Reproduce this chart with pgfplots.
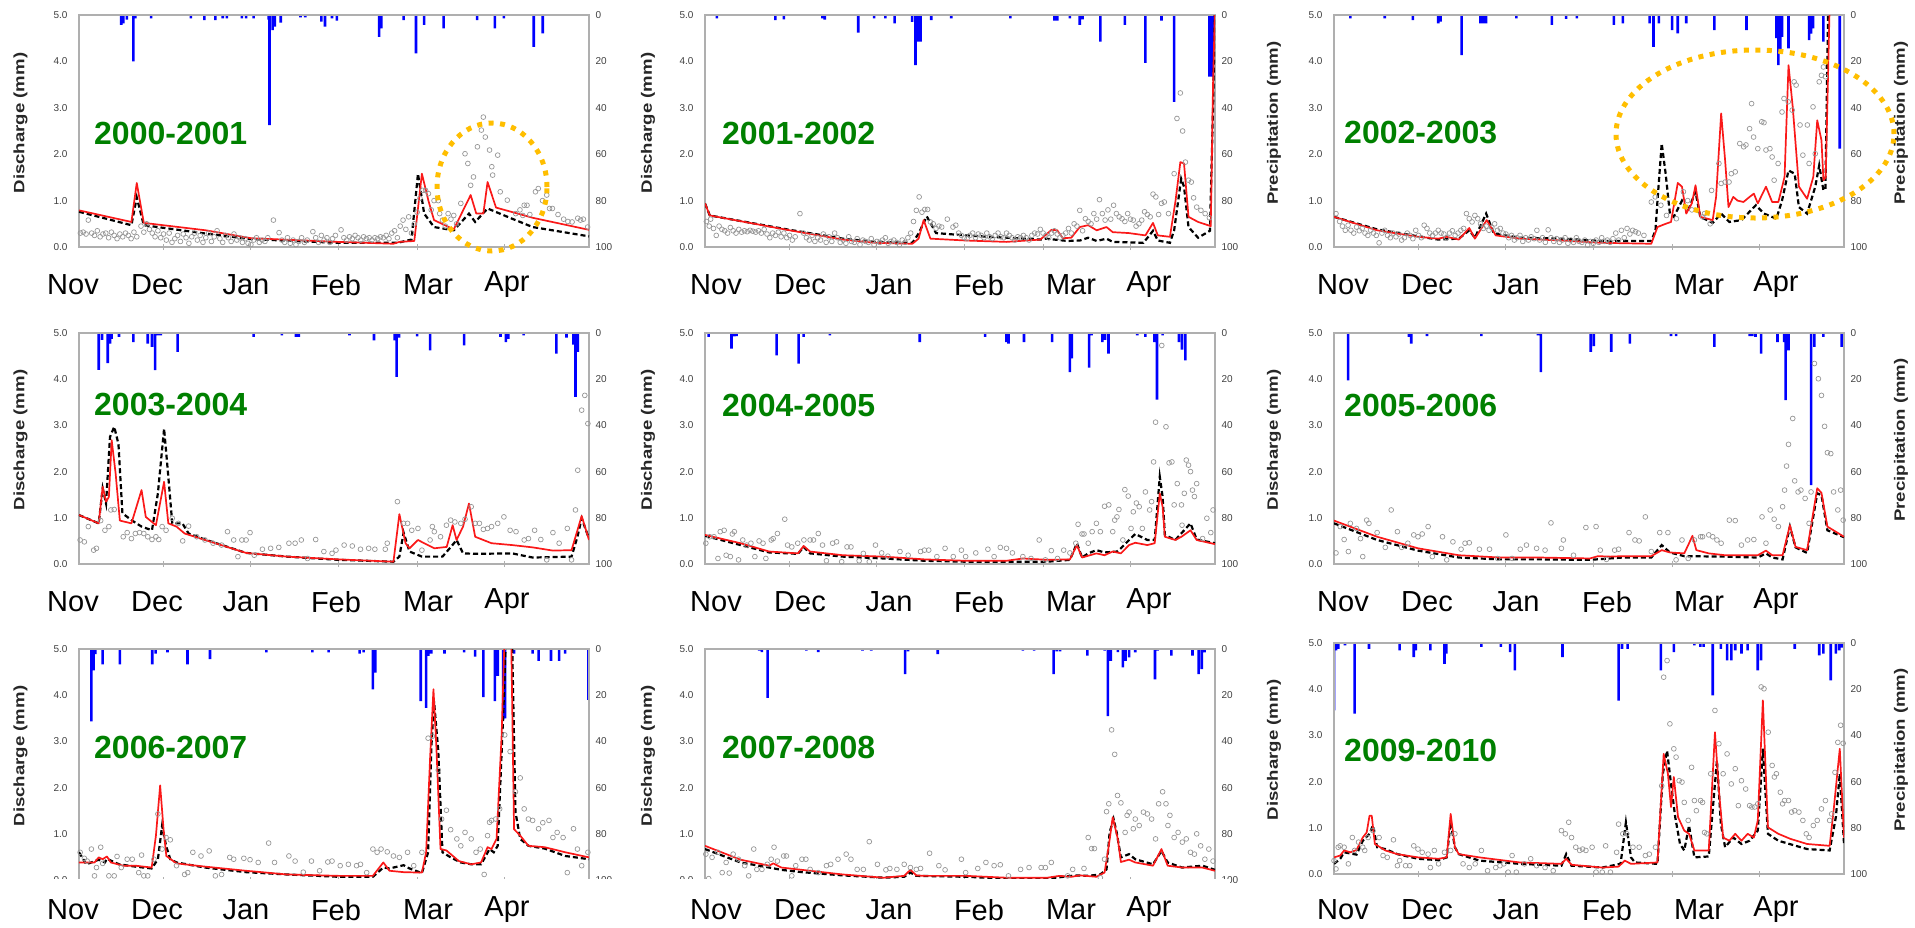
\documentclass[border=0pt]{standalone}
\usepackage{pgfplots}
\pgfplotsset{compat=1.18}
\usepackage{fontspec}
\setmainfont{Liberation Sans}

\definecolor{obsgray}{RGB}{150,150,150}
\definecolor{framegray}{RGB}{175,175,175}
\definecolor{precip}{RGB}{0,0,255}
\definecolor{simred}{RGB}{250,25,25}
\definecolor{yrgreen}{RGB}{0,128,0}
\definecolor{ringorange}{RGB}{255,190,0}

\pgfplotsset{
  base/.style={scale only axis, width=510pt, height=#1, xmin=0, xmax=181,
    anchor=south west, axis line style={draw=framegray, line width=1.3pt},
    tick label style={font=\fontsize{10}{10}\selectfont, text=black!75},
    /pgf/number format/assume math mode=true},
  qaxis/.style={base=#1, ymin=0, ymax=5, ytick={0,1,2,3,4,5},
    yticklabels={0.0,1.0,2.0,3.0,4.0,5.0}, ytick pos=left,
    xtick={30,61,92,120,151}, xticklabels={}, xtick pos=bottom,
    x tick style={draw=framegray, line width=1pt}, y tick style={draw=none},
    major tick length=6pt, tick align=center,
    yticklabel style={xshift=-5pt}},
  paxis/.style={base=#1, ymin=0, ymax=100, y dir=reverse,
    axis y line*=right, axis x line=none, ytick={0,20,40,60,80,100},
    y tick style={draw=none}, ybar, bar width=2.6pt,
    yticklabel style={xshift=3pt}},
}

% #1 left, #2 bottom (px from top), #3 height, #4 rain, #5 simulated (red), #6 simulated (dashed), #7 observed
\newcommand{\panel}[7]{%
  \begin{axis}[paxis=#3, at={(#1pt,-#2pt)}]
    \addplot[fill=precip, draw=none] coordinates {#4};
  \end{axis}
  \begin{axis}[qaxis=#3, at={(#1pt,-#2pt)}]
    \addplot[only marks, mark=o, mark size=2.4pt,
      mark options={draw=obsgray, line width=0.7pt}] coordinates {#7};
    \addplot[black, line width=2.2pt, dash pattern=on 5pt off 3pt] coordinates {#6};
    \addplot[simred, line width=1.7pt, line join=round] coordinates {#5};
  \end{axis}}

\newcommand{\monthfont}{\fontsize{29}{30}\selectfont}
\newcommand{\yearfont}{\fontsize{32}{34}\selectfont\bfseries}
\newcommand{\ylab}[1]{\scalebox{1.24}[1]{\fontsize{15}{15}\selectfont\bfseries #1}}

\begin{document}
\begin{tikzpicture}
\useasboundingbox (0,0) rectangle (1915pt,-927pt);

% ---------- 2000-2001
\panel{79}{247}{232pt}
{(15,4.3)(15.7,3.6)(17,2)(19.3,20)(20,1.4)(25.6,1.4)(39.7,1.4)(44.5,2.2)(48.4,2.2)(51,1.4)(52.5,1.4)(57.8,1.4)(59.3,1.4)(62,1.4)(67.3,2)(67.6,47.5)(68.7,6.5)(69.5,5)(71.6,3.3)(78.6,1)(80.3,1)(86,2.9)(87.3,5)(89.8,1.4)(91.5,2.4)(106.5,9.4)(107.3,5.8)(115.2,2.2)(119.6,16.5)(122.5,4.3)(129.4,5.8)(141.3,2.2)(147.6,5.8)(150.8,1.4)(161.4,13.7)(164.6,7.9)}
{(0,0.79)(18.6,0.54)(20.5,1.38)(23,0.52)(45,0.36)(61,0.19)(92,0.11)(111.6,0.07)(113.7,0.11)(119,0.13)(121.7,1.58)(124,1.0)(126,0.58)(133,0.38)(139,1.12)(141,0.72)(143.5,0.72)(145,1.40)(148,0.85)(161,0.63)(181,0.37)}
{(0,0.76)(18.6,0.47)(20.5,1.07)(23,0.47)(45,0.29)(61,0.17)(92,0.09)(113,0.09)(118,0.16)(120.3,1.58)(122.5,0.72)(126,0.43)(133,0.36)(138.4,0.72)(140.6,0.54)(145,0.83)(153.7,0.61)(161,0.43)(181,0.23)}
{(0.5,0.3)(1.5,0.32)(2.5,0.28)(3.3,0.58)(4.5,0.3)(5.5,0.25)(6.5,0.35)(7.5,0.22)(8.5,0.28)(9.5,0.3)(10.5,0.2)(11.5,0.32)(12.5,0.25)(13.5,0.18)(14.5,0.28)(15.5,0.22)(16.5,0.3)(17.5,0.25)(18.5,0.18)(19.5,0.32)(20.5,0.22)(22,0.45)(23,0.32)(24,0.5)(25,0.38)(26,0.3)(27,0.22)(28,0.35)(29,0.2)(30,0.28)(31,0.15)(32,0.3)(33,0.1)(34,0.18)(35,0.25)(36,0.12)(37,0.28)(38,0.2)(39,0.08)(40,0.22)(41,0.3)(42,0.15)(43,0.25)(44,0.1)(45,0.2)(46,0.3)(47,0.12)(48,0.22)(49,0.35)(50,0.18)(51,0.1)(52,0.25)(53,0.2)(54,0.12)(55,0.28)(56,0.15)(57,0.2)(58,0.1)(59,0.18)(60,0.08)(61,0.05)(62,0.15)(63,0.2)(64,0.1)(65,0.15)(66,0.12)(67,0.2)(69,0.58)(71,0.31)(72,0.15)(73,0.1)(74,0.2)(75,0.08)(76,0.15)(77,0.05)(78,0.12)(79,0.2)(80,0.1)(81,0.15)(83,0.33)(84,0.2)(85,0.1)(86,0.25)(87,0.15)(88,0.2)(89,0.1)(90,0.18)(91,0.25)(93,0.37)(94,0.2)(95,0.15)(96,0.22)(97,0.18)(98,0.25)(99,0.2)(100,0.15)(101,0.22)(102,0.18)(103,0.2)(104,0.15)(105,0.2)(106,0.18)(107,0.22)(108,0.2)(109,0.25)(110,0.18)(111,0.3)(112,0.35)(113,0.2)(114,0.45)(115,0.58)(116,0.38)(117,0.65)(118,0.3)(119,0.5)(120,0.75)(121,1.05)(122,1.22)(123,1.22)(124,1.15)(125,0.8)(126,1.0)(127.5,1.0)(128,0.72)(129,0.58)(130,0.45)(131,0.72)(132,0.6)(133,0.68)(134,0.5)(135.5,0.94)(137,2.01)(138,1.8)(139,1.33)(140,1.51)(141.4,2.16)(142.8,2.52)(143.5,2.8)(144.2,2.37)(145.7,2.09)(146.5,1.73)(146.8,1.55)(148.6,1.98)(149.5,1.19)(152,1.01)(155,0.72)(156.5,0.8)(157.5,0.68)(158,0.9)(159,0.9)(160,0.7)(162,1.19)(163,1.26)(164.5,1.0)(166,1.12)(167,0.83)(168,0.83)(170,0.7)(172,0.6)(173.5,0.55)(175,0.54)(177,0.62)(178,0.58)(179,0.6)(180.5,0.43)}

% ---------- 2001-2002
\panel{705}{247}{232pt}
{(4.2,1.4)(25,2.2)(28,1.9)(41.7,1.4)(42.5,2)(54.4,7.6)(60,1.4)(64,1.4)(67.3,3.6)(73.5,3)(74.7,21.6)(75.6,11.5)(76.5,11.5)(80.3,2.2)(87.4,1.4)(108.4,1.4)(124,2.4)(125,2.4)(129.5,1.4)(133,4.3)(134,1.9)(140.3,11.5)(149,4.3)(156.3,20.6)(162,2.4)(166.5,37.4)(179,26.6)(179.8,26.6)(180.5,20)}
{(0,0.94)(1.7,0.68)(30,0.36)(49,0.16)(60.5,0.09)(73.6,0.07)(75.8,0.18)(77.6,0.58)(80,0.18)(92.5,0.14)(107,0.11)(119,0.16)(123,0.37)(125,0.36)(127,0.19)(130,0.2)(133,0.43)(136,0.47)(139,0.36)(142.5,0.43)(144.7,0.32)(150.5,0.3)(156.3,0.25)(159,0.52)(160.7,0.25)(165,0.22)(167,1.0)(168.7,1.83)(170,1.8)(171.6,0.65)(175,0.54)(179.5,0.45)(180.3,3.5)(181,5.2)}
{(0,0.94)(1.7,0.68)(30,0.37)(49,0.18)(60.5,0.11)(73.6,0.09)(75.8,0.29)(78.7,0.66)(82,0.3)(92.5,0.25)(107,0.2)(119,0.16)(121,0.18)(128.7,0.13)(133,0.14)(136,0.2)(139,0.13)(142.5,0.18)(144.7,0.11)(155.6,0.09)(159,0.35)(160.7,0.14)(165,0.09)(166.5,0.36)(169,1.47)(170,1.3)(171.6,0.43)(175,0.2)(179.2,0.35)(180.3,3.0)(181,5.2)}
{(0.5,0.55)(1.5,0.45)(2,0.6)(3,0.4)(4,0.25)(5,0.45)(6,0.38)(7,0.35)(8,0.3)(9,0.42)(10,0.35)(11,0.3)(12,0.38)(13,0.32)(14,0.35)(15,0.33)(16,0.36)(17,0.34)(18,0.32)(19,0.35)(20,0.3)(21,0.38)(22,0.28)(23,0.2)(24,0.3)(25,0.25)(26,0.32)(27,0.22)(28,0.3)(29,0.2)(30,0.25)(31,0.15)(32,0.22)(33.7,0.72)(35,0.3)(36,0.2)(37,0.15)(38,0.25)(39,0.12)(40,0.2)(41,0.15)(42,0.28)(43,0.1)(44,0.22)(45,0.12)(46,0.3)(47,0.2)(48,0.1)(49,0.15)(50,0.08)(51,0.22)(52,0.12)(53,0.1)(54,0.18)(55,0.05)(56,0.15)(57,0.12)(58,0.1)(59,0.18)(60,0.05)(61,0.12)(62,0.1)(63,0.15)(64,0.2)(65,0.08)(66,0.12)(67,0.15)(68,0.1)(69,0.05)(70,0.15)(71,0.1)(72,0.2)(73,0.3)(74,0.55)(75,0.79)(76,1.08)(77,0.75)(78,0.81)(79,0.81)(80,0.54)(81,0.5)(82,0.4)(83,0.45)(84,0.43)(86,0.6)(88,0.43)(89,0.47)(90,0.3)(91,0.25)(92,0.2)(93,0.18)(94,0.25)(95,0.3)(96,0.2)(97,0.28)(98,0.25)(99,0.2)(100,0.3)(101,0.22)(102,0.18)(103,0.25)(104,0.3)(105,0.22)(106,0.2)(107,0.3)(108,0.25)(109,0.2)(110,0.15)(111,0.22)(112,0.2)(113,0.25)(114,0.2)(115,0.15)(116,0.25)(117,0.3)(118,0.28)(119,0.38)(120,0.3)(121,0.25)(122,0.2)(123,0.3)(124,0.35)(125,0.28)(126,0.2)(127,0.25)(128,0.3)(129,0.4)(130,0.3)(131,0.5)(132,0.45)(133,0.79)(134,0.35)(135,0.61)(136,0.55)(137,0.5)(138,0.72)(139,0.6)(140,1.02)(141,0.72)(142,0.58)(143,0.8)(144,0.6)(145,0.9)(146,0.72)(147,0.65)(148,0.61)(149,0.55)(150,0.72)(151,0.6)(152,0.58)(153,0.45)(154,0.5)(155,0.58)(156,0.76)(157,0.7)(158,0.65)(159,1.14)(160,1.08)(161,0.7)(162,0.94)(163,0.97)(164.5,0.72)(166.5,1.58)(167.5,2.77)(168.7,3.32)(169.5,2.5)(170.5,1.83)(171.6,1.44)(172.6,1.4)(173.4,1.06)(174.5,0.86)(176,0.79)(177.5,0.72)(179,0.63)}

% ---------- 2002-2003
\panel{1334}{247}{232pt}
{(5.8,1.4)(18,1.4)(28,2.2)(37,3.6)(37.8,2.9)(45.3,17.3)(52,3.6)(53,3.6)(54,3.6)(64.7,1.4)(77.3,4.3)(82.4,1.7)(86.2,1.4)(99.3,4.3)(102.5,3.6)(112,3.6)(113.4,13.7)(115.3,3.6)(120,6.5)(122,7.9)(125,3.6)(135,6.5)(146.4,6.5)(157,10)(157.7,21.6)(158.4,16.5)(159,9.4)(161.3,14.4)(168.6,10.8)(169.3,8)(170,5.8)(173.7,11.5)(179.5,57.6)}
{(0,0.65)(15.3,0.36)(29.8,0.22)(37,0.18)(40,0.22)(44.3,0.16)(48,0.41)(50,0.18)(54.2,0.58)(57.4,0.25)(66,0.18)(80.7,0.14)(95,0.09)(112.6,0.07)(114.8,0.43)(117.7,0.5)(119.6,0.54)(122,1.38)(123.5,1.3)(125,0.72)(127,0.94)(128.3,1.33)(130,0.65)(134.4,0.58)(135.6,1.08)(137.4,2.88)(138.8,1.87)(140,0.86)(141.7,1.08)(143.2,1.0)(145.3,0.97)(147.5,1.08)(149,1.15)(150.4,0.94)(153.3,1.3)(155.5,0.97)(157.7,0.97)(159.9,1.51)(161.3,3.92)(162.8,3.02)(165,1.3)(167.9,1.04)(170.1,1.51)(171.5,2.73)(173,2.3)(173.7,1.44)(174.5,1.5)(175.9,5.2)}
{(0,0.65)(15.3,0.38)(29.8,0.23)(37,0.16)(44.3,0.18)(48,0.36)(50,0.2)(54,0.72)(56.7,0.29)(66,0.2)(80.7,0.18)(95,0.13)(112.6,0.13)(114.1,0.36)(114.8,1.0)(116.3,2.23)(117.7,1.58)(119.2,0.72)(120.6,0.65)(123.5,1.0)(125.7,0.79)(128.3,1.19)(130,0.65)(134.4,0.52)(137.4,0.72)(140.3,0.54)(144.6,0.58)(149.7,0.9)(152.6,0.72)(157,0.61)(159,1.0)(161.3,1.65)(163.5,1.58)(165,0.86)(167.9,0.72)(170.8,1.3)(172.2,1.76)(173.7,1.22)(174.4,1.25)(175.4,5.2)}
{(0.7,0.72)(2,0.55)(3,0.45)(4,0.36)(5,0.47)(6,0.36)(7,0.3)(8,0.43)(9,0.35)(10,0.4)(11,0.3)(12,0.25)(13,0.36)(14,0.3)(15,0.25)(16,0.09)(17,0.3)(18,0.36)(19,0.25)(20,0.2)(21,0.3)(22,0.22)(23,0.28)(24,0.15)(25,0.2)(26,0.3)(27,0.25)(28,0.18)(29,0.36)(30,0.25)(31,0.2)(32,0.47)(33,0.4)(34,0.3)(35,0.25)(36,0.3)(37,0.36)(38,0.3)(39,0.28)(40,0.2)(41,0.3)(42,0.35)(43,0.25)(44,0.3)(45,0.36)(46,0.4)(47,0.72)(48,0.61)(49,0.54)(50,0.68)(51,0.61)(52,0.5)(53,0.4)(54,0.45)(55,0.36)(56,0.42)(57,0.5)(58,0.36)(59,0.4)(60,0.3)(61,0.28)(62,0.2)(63,0.25)(64,0.15)(65,0.2)(66,0.25)(67,0.12)(68,0.2)(69,0.15)(70,0.22)(71,0.18)(72,0.36)(73,0.15)(74,0.2)(75,0.1)(76,0.37)(77,0.2)(78,0.12)(79,0.18)(80,0.1)(81,0.15)(82,0.2)(83,0.08)(84,0.15)(85,0.1)(86,0.2)(87,0.12)(88,0.1)(89,0.15)(90,0.04)(91,0.12)(92,0.08)(93,0.15)(94,0.1)(95,0.2)(96,0.12)(97,0.15)(98,0.1)(99,0.18)(100,0.3)(101,0.15)(102,0.36)(103,0.2)(104,0.4)(105,0.28)(106,0.36)(107,0.33)(108,0.3)(110,0.25)(112.6,0.97)(114,1.08)(116,0.9)(118,0.68)(121.5,0.61)(124,1.19)(125.5,1.0)(127,0.8)(130.8,0.65)(131.5,0.72)(133.5,0.5)(134,1.22)(136.6,1.8)(137.4,1.37)(138.8,1.4)(140.2,1.4)(141,1.58)(142.4,1.62)(144,2.23)(145.4,2.16)(146.2,2.2)(147.5,2.55)(148.2,3.09)(148.9,2.37)(150.4,2.12)(151.8,2.7)(152.6,2.68)(153.3,2.09)(154.7,2.12)(155.5,1.94)(156.2,1.44)(157.6,1.8)(159,2.91)(159.7,3.2)(161.2,3.13)(162.6,2.95)(163.3,3.56)(164,3.49)(165.4,2.63)(166.4,1.98)(168,2.63)(168.6,1.8)(170,3.02)(170.8,2.01)(172.2,3.56)(173,3.7)(173.7,3.88)(174.4,3.67)}

% ---------- 2003-2004
\panel{79}{564}{231pt}
{(7,16)(8.2,3)(10.2,13)(11,4.6)(11.6,2.5)(14.2,1.7)(19.3,3.9)(24.4,4.6)(25.9,6)(27,16.1)(28,1)(29,1)(35,8.2)(62,1.7)(72,1)(77,1.7)(78,1.7)(96,1)(104.7,3.2)(112,3.2)(112.7,19)(113.6,2)(120,1.5)(124.6,7.5)(136.7,5.3)(149.6,1.7)(151.5,3.9)(152.4,2.5)(157.8,1)(169.4,8.9)(173,2)(175.5,5)(176.2,27.7)(177,8.2)}
{(0,1.06)(7,0.88)(8.4,1.67)(9.6,1.35)(10.6,1.45)(11.6,2.68)(13,1.96)(14.5,0.94)(18.6,0.88)(22.2,1.6)(23.7,1.02)(27.3,0.84)(30.2,1.78)(31.7,0.88)(34.6,0.81)(37.5,0.66)(44.7,0.52)(59.3,0.24)(73.8,0.16)(92.1,0.1)(111.6,0.05)(113.7,1.08)(115.9,0.45)(117.3,0.34)(120.3,0.52)(122.5,0.45)(126.1,0.34)(130.5,0.37)(132.6,0.84)(134,0.52)(136.3,0.81)(138.4,1.31)(140.6,0.59)(146.4,0.45)(153.7,0.41)(161,0.36)(168.2,0.29)(174.8,0.3)(176.9,0.73)(178.4,1.04)(181,0.52)}
{(0,1.06)(7,0.88)(8.4,1.64)(9.6,1.31)(11,2.75)(12.5,2.97)(14,2.6)(15.4,1.1)(18.6,0.95)(22.2,0.81)(25.9,0.73)(28,1.53)(30.2,2.93)(31.7,1.89)(33.1,0.88)(36.7,0.88)(38.9,0.66)(44.7,0.53)(59.3,0.24)(73.8,0.16)(92.1,0.09)(111.6,0.05)(113.7,0.16)(115.2,0.68)(117.3,0.27)(121.7,0.16)(129,0.16)(132,0.37)(134,0.52)(136.3,0.23)(140.6,0.22)(153.7,0.23)(161,0.14)(174.8,0.16)(176.9,0.59)(178.4,0.99)(181,0.55)}
{(0.4,0.52)(1.9,0.48)(3.3,0.81)(5.2,0.3)(6.2,0.34)(7.7,0.94)(9.2,0.73)(10.6,0.81)(11.3,1.17)(12.5,1.18)(15.7,0.59)(17.1,0.68)(18.6,0.55)(20,0.66)(21.5,0.68)(23,0.66)(24.4,0.59)(25.9,0.53)(27.3,0.59)(28.3,0.53)(29.5,0.81)(30.9,0.73)(33.1,0.99)(35.3,0.88)(36.8,0.5)(38.9,0.82)(41.8,0.59)(44.7,0.52)(47.6,0.45)(50.6,0.41)(52.7,0.7)(54.9,0.52)(56.4,0.16)(57.8,0.52)(59.3,0.52)(60.7,0.68)(62.2,0.19)(65.1,0.32)(68,0.34)(70.9,0.36)(74.5,0.45)(76.7,0.45)(78.9,0.52)(81.1,0.12)(84,0.53)(86.9,0.27)(89.8,0.23)(91.2,0.3)(94.1,0.41)(97,0.39)(99.9,0.32)(102.8,0.34)(105,0.32)(108.7,0.32)(109.4,0.45)(113,1.35)(115.2,0.88)(116.6,0.88)(118.1,0.73)(120.3,0.77)(121.7,0.3)(124.6,0.52)(125.4,0.81)(126.1,0.7)(128.3,0.59)(130.4,0.84)(131.9,0.95)(133.4,0.91)(135.5,0.88)(137,0.97)(139.2,1.24)(140.6,0.88)(142.1,0.88)(143.5,0.75)(145,0.77)(146.4,0.81)(148.6,0.88)(150.8,1.02)(153,0.73)(155.1,0.7)(158,0.52)(159.5,0.55)(161.7,0.73)(163.9,0.53)(166,0.09)(168.2,0.68)(170.4,0.45)(173.3,0.77)(174.8,0.09)(176.2,1.17)(177,2.03)(178.4,3.33)(179.5,3.65)(180.6,3.04)}

% ---------- 2004-2005
\panel{705}{564}{231pt}
{(1.3,1.7)(9.4,6.8)(10.4,1.5)(11.2,1.3)(25.4,9.7)(33.2,13.3)(35,1.7)(44.3,1)(76.2,3.9)(99.4,1.7)(107,3.9)(107.7,4.6)(113.2,3.9)(123.2,3.9)(129.5,16.9)(130.2,11)(136.3,15)(137.2,1)(141,3.9)(142,3)(143.2,8.9)(153.4,1)(156.3,1.7)(159.5,3.9)(160.4,28.8)(162.4,1)(168.2,3.9)(169.3,7.2)(170.5,11.8)}
{(0,0.63)(12.6,0.45)(22.8,0.27)(33,0.23)(35,0.39)(37.3,0.27)(48.9,0.19)(63.4,0.16)(77.9,0.1)(92.5,0.07)(107,0.07)(112.8,0.12)(121.5,0.09)(129.5,0.1)(132,0.41)(133.8,0.14)(138.9,0.23)(141.8,0.19)(144.7,0.27)(147.6,0.23)(150.5,0.41)(152.7,0.46)(157,0.41)(159.6,0.45)(161.4,1.53)(162.4,1.24)(163.2,0.59)(166.9,0.52)(169.1,0.59)(172.3,0.73)(174.5,0.52)(181,0.43)}
{(0,0.61)(12.6,0.41)(22.8,0.25)(33,0.22)(35,0.37)(37.3,0.23)(48.9,0.16)(63.4,0.12)(77.9,0.07)(92.5,0.05)(112.8,0.05)(121.5,0.05)(129.5,0.09)(132,0.45)(133.8,0.14)(136,0.23)(138.9,0.3)(141.8,0.25)(146.2,0.27)(147.6,0.34)(150.5,0.52)(152.7,0.65)(157,0.52)(159.6,0.52)(161.4,1.89)(162.4,1.46)(163.2,0.63)(166.9,0.52)(172.3,0.88)(174.5,0.53)(181,0.45)}
{(0.3,0.45)(1.7,0.59)(3.2,0.59)(4.6,0.12)(5.4,0.7)(6.8,0.73)(7.5,0.19)(9,0.16)(9.7,0.65)(10.4,0.7)(11.9,0.09)(13.4,0.52)(14.8,0.41)(16.3,0.45)(17.7,0.16)(19.2,0.5)(20.6,0.45)(21.6,0.12)(23.5,0.52)(24.2,0.55)(25.7,0.66)(28.3,0.97)(29.3,0.41)(30.8,0.37)(32.9,0.45)(35.1,0.52)(37.3,0.52)(38.5,0.52)(40.2,0.66)(41.7,0.41)(43.1,0.07)(45.3,0.45)(46.7,0.48)(48.5,0.05)(50.4,0.37)(51.8,0.37)(54.7,0.07)(56.2,0.23)(58.3,0.05)(60.5,0.41)(62.7,0.24)(64.9,0.17)(69.2,0.27)(72.1,0.19)(76.5,0.27)(77.9,0.3)(79.4,0.3)(82.3,0.16)(85.2,0.34)(88.1,0.16)(91,0.3)(92.5,0.16)(96.1,0.24)(100.4,0.32)(102.6,0.16)(104.8,0.36)(107,0.34)(109.1,0.24)(112.8,0.16)(115.7,0.12)(118.6,0.52)(120.8,0.09)(122.9,0.29)(125.1,0.12)(127.3,0.3)(129.5,0.24)(131.6,0.45)(132.4,0.86)(133.8,0.65)(134.5,0.65)(136,0.45)(137.4,0.7)(138.9,0.88)(140.3,0.7)(141.8,1.25)(143.3,1.28)(144.7,0.7)(145.4,0.95)(146.2,1.02)(146.9,1.18)(148.3,0.52)(149,1.61)(150.2,1.47)(151.2,0.77)(152,1.13)(153.1,1.32)(154.1,1.24)(155.2,0.77)(156.3,1.56)(157.8,1.17)(158.5,1.35)(159.2,2.21)(159.9,3.07)(162.1,4.73)(163.6,2.97)(164.7,2.19)(165.7,2.21)(166.5,1.28)(167.6,1.74)(169.1,1.28)(169.3,0.84)(170.1,1.53)(170.8,2.25)(171.6,2.14)(172.3,2)(173,1.6)(173.7,1.46)(174.5,1.74)(176.6,0.55)(178.1,0.99)(179.5,0.68)(180.3,1.17)}

% ---------- 2005-2006
\panel{1334}{564}{231pt}
{(5,20.5)(26.6,1.7)(27.4,4.6)(33,1.4)(52.3,1.4)(72.4,1)(73.4,16.9)(91.1,8.2)(92.2,5.7)(98.4,8.2)(105,4.6)(119.6,1.4)(121.4,1.4)(135,6)(147.5,1.4)(148.5,1.4)(149.6,1.7)(151.6,8.9)(157.4,3.9)(159.8,3.9)(160.3,29)(161.3,7.5)(169.3,65.8)(170.5,6)(173.7,1.7)(180.2,6)}
{(0,0.94)(15.3,0.59)(29.8,0.34)(44.3,0.19)(58.9,0.14)(73.4,0.14)(90.8,0.12)(93.7,0.17)(98,0.16)(102.4,0.17)(112.6,0.17)(116.3,0.3)(119.2,0.25)(124.3,0.23)(125.7,0.41)(127.2,0.61)(128.6,0.3)(133,0.23)(138.8,0.19)(150.4,0.19)(153.3,0.29)(155.5,0.19)(159.2,0.19)(161.8,0.84)(163.8,0.37)(167.9,0.3)(171.5,1.64)(173,1.54)(175.1,0.81)(181,0.59)}
{(0,0.88)(15.3,0.52)(29.8,0.29)(44.3,0.14)(58.9,0.1)(73.4,0.1)(90.8,0.09)(102.4,0.14)(112.6,0.14)(116.3,0.41)(119.2,0.25)(124.3,0.17)(138.8,0.16)(150.4,0.14)(153.3,0.23)(155.5,0.14)(159.2,0.1)(161.8,0.81)(163.8,0.36)(167.9,0.24)(171.5,1.53)(173,1.49)(175.1,0.73)(181,0.58)}
{(0.7,0.24)(2.2,0.81)(3.6,0.53)(5.1,0.27)(5.8,0.88)(8,0.77)(9.4,0.55)(10.2,0.16)(11.6,0.95)(12.4,0.88)(15.3,0.68)(18.2,0.36)(20.3,1.17)(22.5,0.7)(24,0.36)(26.2,0.45)(28.3,0.63)(29.8,0.59)(31.3,0.65)(33.4,0.81)(34.9,0.16)(38.5,0.59)(40,0.09)(42.2,0.48)(45.1,0.32)(46.5,0.45)(48,0.46)(51.6,0.32)(55.2,0.32)(58.1,0.12)(61,0.63)(63.2,0.12)(66.1,0.32)(68.3,0.41)(71.9,0.34)(74.9,0.3)(77,0.89)(80.7,0.34)(81.4,0.52)(85,0.19)(89.4,0.79)(93,0.81)(94.5,0.3)(96.7,0.1)(99.6,0.3)(101,0.32)(104.7,0.68)(106.8,0.52)(108.3,0.5)(110.5,1.02)(112.6,0.27)(115.6,0.68)(118.5,0.68)(121.4,0.09)(123.5,0.52)(125.7,0.12)(127.9,0.52)(130.1,0.59)(130.8,0.59)(133,0.63)(134.4,0.59)(135.9,0.52)(137.4,0.45)(140.3,0.95)(142.4,0.94)(144.6,0.41)(146.8,0.52)(149,0.53)(151.9,1.02)(153.3,0.45)(154.8,1.17)(156.2,0.97)(157.7,0.81)(159.2,1.24)(159.9,1.6)(160.6,2.12)(161.3,2.59)(162.8,3.15)(163.5,1.8)(164.7,1.56)(165.7,1.6)(167.2,1.42)(168.6,0.88)(169.3,1.56)(170.5,4.34)(171.9,4.01)(173,3.65)(174.1,2.98)(175.1,2.41)(176.3,2.39)(177.3,1.56)(178.8,1.17)(179.8,1.6)(180.7,0.95)}

% ---------- 2006-2007
\panel{79}{880}{231pt}
{(4.4,31.3)(5.2,9.2)(5.8,2.2)(8.4,6.6)(14.5,6.6)(26,6.6)(27.2,2)(31.4,1.5)(38.5,6.6)(46.5,4.4)(66.5,1.5)(82.8,1.5)(88.6,1.5)(99.6,2)(101,1.5)(104.3,17.5)(105.2,10.2)(121.3,22.6)(123.2,25.5)(124,3)(125,2)(129.7,2)(136.7,1.5)(140.6,3.3)(143.5,20.8)(147.6,22.6)(148.6,11.6)(150.5,30.6)(151.2,30)(154.4,2)(161,2)(163.1,5.1)(167.5,5.1)(170.4,5.1)(172.5,2)(180.8,22)}
{(0,0.38)(5.5,0.38)(7,0.49)(8.4,0.45)(9.9,0.51)(11.3,0.38)(15.7,0.31)(20,0.31)(25.8,0.27)(27.3,0.96)(28.8,2.05)(30,1.1)(31,0.52)(34.6,0.36)(44.7,0.29)(59.3,0.2)(73.8,0.12)(92.1,0.09)(104.3,0.09)(108,0.38)(110.2,0.2)(115.2,0.17)(121.7,0.16)(123.2,0.6)(124.6,2.63)(125.8,4.13)(126.8,2.93)(128.3,0.67)(130.4,0.64)(134.8,0.41)(139.2,0.34)(142.7,0.38)(145,0.71)(146.4,0.67)(148.2,0.89)(150,3.14)(151,5.2)(153.4,5.2)(154.4,1.1)(156.6,0.96)(159.5,0.74)(165.3,0.71)(172.6,0.6)(181,0.49)}
{(0,0.6)(2.6,0.34)(7,0.44)(9.2,0.38)(9.9,0.46)(14.2,0.34)(20,0.29)(25.8,0.25)(28,0.45)(29.5,1.18)(30.9,0.74)(32.4,0.45)(34.6,0.38)(44.7,0.27)(59.3,0.17)(73.8,0.12)(92.1,0.07)(104.3,0.07)(108,0.27)(110.2,0.25)(115.2,0.32)(117.3,0.25)(121.7,0.15)(123.9,0.6)(125.1,2.93)(126,3.87)(127.5,2.8)(129,0.6)(131.9,0.49)(135.5,0.38)(139.2,0.34)(142.7,0.34)(145.7,0.67)(147.2,0.6)(148.6,0.74)(150.5,3.5)(151.5,5.2)(153.7,5.2)(154.9,1.47)(156.6,0.89)(159.5,0.74)(165.3,0.68)(172.6,0.52)(181,0.45)}
{(0.4,0.6)(1.9,0.47)(2.9,0.41)(4.4,0.67)(5.5,0.09)(6.2,0.27)(7.7,0.71)(8.4,0.36)(10.6,0.09)(12.5,0.09)(13.5,0.51)(15,0.27)(17.1,0.45)(18.9,0.45)(21.2,0.16)(22.2,0.54)(23,0.09)(24.4,0.09)(26.6,0.45)(28,1.43)(29.5,0.67)(30.9,0.92)(32.4,0.87)(34.6,0.31)(37.5,0.12)(38.6,0.16)(40.4,0.6)(43.3,0.52)(46.2,0.63)(48.4,0.09)(50.6,0.12)(53.5,0.49)(54.9,0.45)(58.5,0.47)(60.7,0.44)(63.6,0.38)(67.3,0.8)(69.4,0.38)(74.5,0.52)(76.7,0.41)(79.6,0.17)(82.5,0.41)(85.4,0.2)(88.3,0.39)(89.8,0.41)(92.7,0.31)(95.6,0.34)(98.5,0.31)(99.9,0.34)(102.1,0.16)(104.3,0.67)(105.8,0.6)(107.2,0.67)(109.4,0.61)(111.6,0.52)(113.7,0.49)(116.6,0.6)(118.8,0.31)(121.7,0.6)(123.9,3.07)(125.4,3.11)(127.5,2.38)(128.7,1.32)(130.4,1.51)(131.9,1.09)(134.1,0.89)(135.5,0.74)(137,1.03)(139.2,0.89)(140.9,0.6)(142.4,0.67)(143.8,0.12)(145,0.96)(145.7,1.25)(146.4,1.29)(147.9,1.32)(149.3,1.54)(151.1,3.14)(153,2.78)(154.9,1.91)(156.6,2.21)(158,1.54)(159.5,1.32)(161,1.29)(163.1,1.11)(164.6,1.24)(166.8,1.29)(168.2,0.92)(169.7,1.03)(171.8,0.92)(173.3,0.16)(175.5,1.11)(176.9,0.67)(178.4,0.31)(180.6,0.6)}

% ---------- 2007-2008
\panel{705}{880}{231pt}
{(19.2,0.7)(20.2,1.4)(22.2,21.1)(36,0.7)(40.2,1.4)(55.9,0.7)(59,0.7)(71,10.9)(72.1,1)(82.6,2.2)(112.8,0.7)(116.8,0.7)(123.7,10.9)(124.8,1)(126,1)(135.7,2.9)(141.8,0.7)(143,29.1)(144,5.1)(146.5,1.4)(148.3,8)(149.3,5.1)(150.5,3.6)(152.7,1.5)(159.7,13.1)(160.6,0.7)(165.5,2.9)(173,2.9)(175.2,10.9)(176.3,8.7)(177.3,1.5)}
{(0,0.74)(12.6,0.44)(22.8,0.31)(24.2,0.36)(27.1,0.27)(34.4,0.22)(48.9,0.12)(63.4,0.05)(70.7,0.09)(72.9,0.22)(75,0.1)(77.9,0.09)(92.5,0.09)(107,0.05)(121.5,0.05)(125.8,0.09)(130.1,0.07)(133,0.1)(138.9,0.07)(141.8,0.16)(143.3,0.74)(144.7,1.36)(146.5,0.89)(147.6,0.39)(150.5,0.44)(152.7,0.38)(159,0.31)(162,0.67)(164.2,0.31)(169.3,0.27)(176.5,0.27)(181,0.2)}
{(0,0.67)(12.6,0.38)(22.8,0.27)(27.1,0.22)(34.4,0.17)(48.9,0.1)(63.4,0.05)(70.7,0.07)(72.9,0.16)(75,0.09)(92.5,0.07)(107,0.03)(121.5,0.03)(130.1,0.09)(133,0.1)(135.9,0.09)(140.3,0.12)(142.5,0.23)(143.6,1.03)(145,1.32)(146.1,1.03)(147.6,0.49)(150.5,0.56)(152.7,0.45)(159,0.34)(162,0.63)(164.2,0.38)(169.3,0.27)(176.5,0.31)(181,0.22)}
{(0.3,0.56)(1.3,0.03)(2.5,0.49)(4.6,0.6)(6.1,0.16)(7.5,0.38)(8.6,0.15)(10,0.56)(11.9,0.45)(14.1,0.31)(15.5,0.09)(17.3,0.67)(18.4,0.23)(20.2,0.23)(22.1,0.34)(23.5,0.45)(24.5,0.71)(25.7,0.41)(27.9,0.52)(28.9,0.52)(30.8,0.09)(32.2,0.31)(34.4,0.45)(35.8,0.45)(37.3,0.23)(40.2,0.16)(43.1,0.31)(44.6,0.34)(47.2,0.45)(50.1,0.56)(51.8,0.45)(54,0.23)(56.2,0.23)(58.3,0.83)(61.2,0.34)(64.2,0.22)(65.6,0.25)(68.1,0.23)(70.7,0.34)(72.9,0.27)(75,0.23)(76.5,0.25)(79.7,0.58)(83,0.31)(85.2,0.22)(91,0.45)(92.5,0.16)(96.8,0.25)(99.7,0.38)(102.6,0.31)(104.8,0.33)(107.7,0.09)(112,0.23)(115,0.27)(119.3,0.27)(120.8,0.27)(122.9,0.38)(128.7,0.09)(130.5,0.23)(134.5,0.25)(136,0.92)(137.2,0.68)(138.2,0.68)(140.3,0.05)(141.8,0.45)(142.5,1.48)(143.3,1.65)(144.3,3.25)(145.4,2.72)(146.4,1.83)(147.6,1.67)(149.1,1.03)(149.8,1.4)(150.5,1.47)(152,1.11)(152.7,1.32)(154.1,1.18)(155.6,1.47)(157,1.43)(158.5,1.32)(159.9,0.89)(161,1.65)(162.4,1.91)(163.6,1.65)(164.3,1.18)(165,1.4)(166.5,0.92)(167.9,1.03)(169.4,0.82)(170.8,0.89)(172.3,0.6)(173.7,0.56)(174.5,1)(175.9,0.74)(177.4,0.45)(178.8,0.67)(180.3,0.41)}

% ---------- 2009-2010
\panel{1334}{874}{231pt}
{(0,29.2)(0.7,3.2)(1.5,2.5)(3.9,1)(7.3,30.6)(12.4,2.5)(23.3,3.2)(28.3,6.1)(29,3.2)(34.2,3.2)(39.2,9)(39.9,4.6)(52.3,1.7)(59.2,1.7)(62.5,3.9)(64.2,11.8)(81.1,6.1)(101,24.9)(102.2,2.5)(104.2,2.5)(116,11.8)(120.6,3.9)(127.9,1)(130,1.7)(131.2,1.7)(134.4,22.7)(137.3,2.5)(139.5,7.5)(141,7.5)(142.4,3.2)(144.6,4.6)(146.8,3.2)(150.4,11.8)(151.6,7.5)(163.5,2.5)(172.2,5.3)(173.7,4.6)(176.3,16.2)(178.1,4.6)(179.3,3.2)(180.3,2)}
{(0,0.36)(2.2,0.4)(3.6,0.51)(5.8,0.47)(8,0.52)(10.2,0.79)(11.6,0.9)(12.6,1.26)(13.4,1.26)(14.5,0.65)(18.2,0.51)(22.5,0.43)(29.8,0.36)(37.1,0.33)(40,0.36)(41.4,1.3)(42.9,0.58)(44.3,0.43)(51.6,0.36)(66,0.25)(80.7,0.22)(82.4,0.33)(84.3,0.2)(95.2,0.14)(101,0.16)(103.2,0.29)(105.4,0.22)(114.8,0.25)(117,2.6)(118.5,2.17)(119.6,1.45)(120.6,2.1)(122.1,1.23)(124.3,0.94)(126,0.87)(127.9,0.51)(133,0.51)(135.2,3.07)(136.6,1.81)(138.1,0.79)(140.3,0.72)(142.4,0.87)(144.6,0.72)(146.8,0.87)(149,0.79)(150.4,1.16)(152.2,3.76)(154,1.01)(157.7,0.87)(162,0.76)(167.9,0.65)(175.9,0.61)(177.3,1.37)(179.5,2.71)(181,0.79)}
{(0,0.22)(2.2,0.33)(3.6,0.47)(8,0.42)(10.2,0.72)(12.6,0.87)(13.8,1.05)(15.3,0.58)(18.2,0.54)(22.5,0.43)(29.8,0.33)(37.1,0.3)(40,0.36)(41.4,1.12)(42.9,0.58)(44.3,0.43)(51.6,0.29)(66,0.22)(80.7,0.18)(82.4,0.43)(84.3,0.18)(95.2,0.14)(101.7,0.22)(103.6,1.12)(105.4,0.36)(106.8,0.25)(114.8,0.22)(116.7,2.17)(118.2,2.67)(119.6,1.95)(121.1,1.23)(122.8,0.65)(124.3,0.51)(126,1.05)(127.9,0.36)(133,0.38)(135.9,2.46)(137.3,1.08)(138.8,0.58)(141.7,0.79)(144.6,0.65)(147.5,0.72)(150.4,0.94)(152.2,2.71)(154,0.87)(157.7,0.72)(167.9,0.54)(175.9,0.51)(178.1,1.23)(179.5,2.17)(181,0.65)}
{(0,0.29)(0.7,0.11)(1.5,0.58)(2.2,0.61)(3.6,0.58)(5.1,0.22)(6.5,0.79)(7.3,0.51)(8.7,0.69)(10.2,0.58)(10.9,0.51)(12.1,0.79)(13.8,0.94)(16,0.79)(17.4,0.4)(18.9,0.36)(21.1,0.74)(22.5,0.18)(23.3,0.29)(25.4,0.18)(26.9,0.18)(28.3,0.61)(29.8,0.54)(31.3,0.47)(33.4,0.43)(34.2,0.14)(35.6,0.51)(37.1,0.22)(39.2,0.47)(41.4,0.51)(42.9,0.87)(45.8,0.22)(48,0.14)(50.1,0.22)(52.3,0.51)(54.5,0.07)(57.4,0.14)(58.9,0.18)(60.3,0.22)(61.8,0.04)(63.2,0.4)(64.7,0.04)(67.6,0.22)(69.8,0.33)(71.9,0.18)(74.9,0.14)(77.8,0.07)(80.7,0.94)(82.1,0.87)(83.3,1.12)(84.3,0.79)(85.8,0.58)(87.2,0.51)(88.2,0.54)(89.4,0.51)(91.6,0.58)(93,0.04)(95.2,0.04)(96.4,0.61)(98.1,0.04)(100.3,0.47)(101,1.08)(102.5,0.87)(103.9,0.87)(106.1,0.58)(108.3,0.58)(110.5,0.4)(111.9,0.43)(114.1,0.58)(116.3,1.91)(117,4.26)(118.2,4.62)(119.2,3.25)(120.6,2.71)(121.4,2.53)(122.5,2.02)(123.5,1.99)(124.3,1.55)(125.7,1.16)(126.9,2.31)(127.9,1.59)(128.6,1.37)(130.1,1.59)(130.8,1.55)(131.5,0.9)(132.3,0.87)(133.7,2.17)(135.2,3.54)(136.6,2.82)(138.1,2.17)(139.5,2.6)(141,1.95)(142.4,2.28)(143.5,1.48)(144.6,2.02)(146.1,1.84)(147.5,1.48)(148.3,1.45)(149.3,1.45)(150.4,1.52)(151.6,4.05)(152.6,4.01)(154.1,3.07)(155.5,2.35)(156.3,2.1)(157,2.17)(158.4,1.77)(159.2,1.52)(159.9,1.59)(161.3,1.59)(162.4,1.34)(163.5,1.37)(165,1.34)(166.4,1.16)(167.6,0.87)(168.6,0.79)(170.1,1.05)(171.5,1.16)(173,1.41)(174.4,1.59)(175.9,1.16)(176.6,1.3)(177.8,2.2)(178.8,2.85)(179.8,3.22)(180.7,2.83)}

% bottom strip of the last row is hidden behind the month line
\fill[white] (0pt,-878.5pt) rectangle (1230pt,-895pt);

% highlighted periods
\draw[ringorange, line width=5pt, dash pattern=on 5pt off 6.5pt] (492pt,-187pt) ellipse [x radius=55pt, y radius=64pt];
\draw[ringorange, line width=5pt, dash pattern=on 5pt off 6.5pt] (1755pt,-134pt) ellipse [x radius=139pt, y radius=84pt];

% month names
\foreach \y in {285,602,910}{
  \foreach \m/\x in {Nov/73,Dec/157,Jan/246,Feb/336,Mar/428,Apr/507,
                     Nov/716,Dec/800,Jan/889,Feb/979,Mar/1071,Apr/1149,
                     Nov/1343,Dec/1427,Jan/1516,Feb/1607,Mar/1699,Apr/1776}{
    \node[font=\monthfont, inner sep=0pt] at (\x pt,-\y pt) {\m};}}

% season labels
\foreach \t/\x/\y in {2000-2001/94/133,2001-2002/722/133,2002-2003/1344/133,
                      2003-2004/94/405,2004-2005/722/405,2005-2006/1344/405,
                      2006-2007/94/747,2007-2008/722/747,2009-2010/1344/750}{
  \node[font=\yearfont, text=yrgreen, anchor=west, inner sep=0pt] at (\x pt,-\y pt) {\t};}

% axis titles
\foreach \x/\y in {20.5/123,648/123,20.5/440,648/440,1274/440,20.5/756,648/756,1274/750}{
  \node[rotate=90, inner sep=0pt, text=black!85] at (\x pt,-\y pt) {\ylab{Discharge (mm)}};}
\node[rotate=90, inner sep=0pt, text=black!85] at (1274pt,-123pt) {\ylab{Precipitation (mm)}};
\foreach \y in {123,440,750}{
  \node[rotate=90, inner sep=0pt, text=black!85] at (1901pt,-\y pt) {\ylab{Precipitation (mm)}};}
\end{tikzpicture}
\end{document}
